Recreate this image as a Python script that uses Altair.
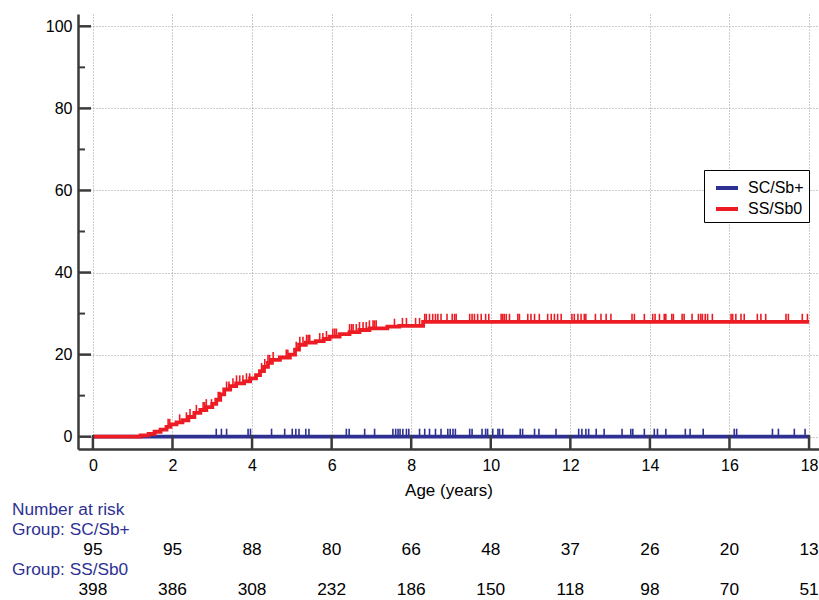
import altair as alt
import pandas as pd
import numpy as np

# ---------------- data ----------------
group_names = ["SC/Sb+", "SS/Sb0"]
group_colors = ["#2E3192", "#ED1C24"]

# SS/Sb0 cumulative incidence step function (%), time in years
ss_times = [0, 1.2, 1.4, 1.55, 1.7, 1.85, 1.95, 2.1, 2.25, 2.4, 2.55, 2.7, 2.85,
            3.0, 3.1, 3.2, 3.3, 3.45, 3.6, 3.8, 3.95, 4.1, 4.2, 4.3, 4.4, 4.5,
            4.7, 4.95, 5.08, 5.18, 5.35, 5.6, 5.8, 5.95, 6.2, 6.45, 6.7, 6.95,
            7.4, 7.7, 8.3, 18.0]
ss_values = [0, 0.3, 0.7, 1.2, 1.7, 2.4, 3.0, 3.5, 4.0, 4.8, 5.8, 6.5, 7.2,
             8.0, 9.0, 10.3, 11.5, 12.3, 13.0, 13.5, 14.2, 15.0, 16.0, 17.0, 18.0, 18.7,
             19.3, 20.0, 21.2, 22.4, 22.9, 23.3, 23.8, 24.4, 25.0, 25.5, 26.0, 26.4,
             26.8, 27.0, 28.0, 28.0]

# SC/Sb+ cumulative incidence step function (%)
sc_times = [0, 18.0]
sc_values = [0, 0]

# censoring times
ss_censor = [1.89, 1.93, 2.18, 2.35, 2.44, 2.60, 2.77, 2.81, 2.85, 2.98, 3.15, 3.19,
             3.36, 3.42, 3.52, 3.61, 3.69, 3.77, 3.86, 3.94, 4.24, 4.32, 4.40, 4.44,
             4.53, 4.86, 4.90, 5.11, 5.20, 5.28, 5.37, 5.41, 5.45, 5.70, 5.78, 5.87,
             6.03, 6.08, 6.12, 6.45, 6.50, 6.54, 6.62, 6.70, 6.79, 6.87, 6.95, 7.04,
             7.08, 7.12, 7.58, 7.78, 7.88, 8.11, 8.21, 8.34, 8.38, 8.46, 8.54, 8.61,
             8.67, 8.75, 8.90, 9.03, 9.09, 9.13, 9.47, 9.53, 9.59, 9.67, 9.76, 9.87,
             9.95, 10.26, 10.30, 10.34, 10.39, 10.47, 10.68, 10.72, 10.93, 11.01, 11.10,
             11.22, 11.43, 11.52, 11.60, 11.68, 11.77, 12.04, 12.10, 12.19, 12.27,
             12.35, 12.39, 12.63, 12.77, 12.90, 13.02, 13.55, 13.61, 13.86, 14.07,
             14.13, 14.24, 14.36, 14.40, 14.55, 14.59, 14.81, 14.86, 15.06, 15.22,
             15.28, 15.32, 15.39, 15.45, 15.57, 16.04, 16.08, 16.16, 16.29, 16.37,
             16.70, 16.79, 16.91, 17.42, 17.48, 17.83, 17.96]
sc_censor = [3.10, 3.23, 3.36, 3.90, 3.96, 4.49, 4.82, 5.01, 5.10, 5.18, 5.35, 5.43,
             6.37, 6.44, 6.83, 7.08, 7.54, 7.61, 7.67, 7.72, 7.79, 7.88, 7.94, 8.21,
             8.34, 8.46, 8.61, 8.75, 8.92, 8.98, 9.05, 9.11, 9.47, 9.53, 9.78, 9.87,
             9.92, 10.05, 10.18, 10.22, 10.30, 10.74, 10.80, 11.10, 11.21, 11.64,
             12.21, 12.29, 12.39, 12.46, 12.65, 12.85, 13.30, 13.52, 13.57, 13.86,
             14.11, 14.19, 14.40, 14.89, 15.01, 15.34, 16.12, 16.18, 17.08, 17.23,
             17.63, 17.90]

# number at risk table
risk_times = [0, 2, 4, 6, 8, 10, 12, 14, 16, 18]
risk_sc = [95, 95, 88, 80, 66, 48, 37, 26, 20, 13]
risk_ss = [398, 386, 308, 232, 186, 150, 118, 98, 70, 51]

x_ticks = [0, 2, 4, 6, 8, 10, 12, 14, 16, 18]
y_ticks = [0, 20, 40, 60, 80, 100]
y_minor = [10, 30, 50, 70, 90]

# ---------------- build tables ----------------
lines = pd.concat([
    pd.DataFrame({"t": sc_times, "v": sc_values, "group": group_names[0]}),
    pd.DataFrame({"t": ss_times, "v": ss_values, "group": group_names[1]}),
], ignore_index=True)


def level_at(times, values, t):
    idx = np.searchsorted(np.array(times), np.array(t), side="right") - 1
    return np.array(values)[idx]


censor = pd.concat([
    pd.DataFrame({"t": sc_censor, "v": level_at(sc_times, sc_values, sc_censor),
                  "group": group_names[0]}),
    pd.DataFrame({"t": ss_censor, "v": level_at(ss_times, ss_values, ss_censor),
                  "group": group_names[1]}),
], ignore_index=True)

risk_sc_df = pd.DataFrame({"t": risk_times, "n": risk_sc})
risk_ss_df = pd.DataFrame({"t": risk_times, "n": risk_ss})

FONT = "Liberation Sans"
AXIS_COL = "#3a3a3a"
LABEL_COL = "#2E3192"

xscale = alt.Scale(domain=[-0.375, 18.25], nice=False, zero=False)
yscale = alt.Scale(domain=[-3, 103], nice=False, zero=False)
cscale = alt.Scale(domain=group_names, range=group_colors)
color = alt.Color("group:N", scale=cscale,
                  legend=alt.Legend(title=None, orient="none", legendX=626, legendY=156,
                                    symbolType="stroke", symbolStrokeWidth=4,
                                    symbolSize=484, labelFontSize=16, labelFont=FONT,
                                    labelColor="black", strokeColor="black",
                                    fillColor="white", padding=5, rowPadding=0,
                                    labelOffset=8, symbolOffset=5))

base_x = alt.X("t:Q", scale=xscale,
               axis=alt.Axis(values=x_ticks, grid=True, gridDash=[1, 2], gridColor="#9a9a9a",
                             gridWidth=1, ticks=False, domainColor=AXIS_COL, domainWidth=2.5,
                             labelFontSize=16, labelFont=FONT, labelColor="black",
                             labelPadding=8, title="Age (years)", titleFontSize=17,
                             titleFont=FONT, titleFontWeight="normal", titleColor="black",
                             titlePadding=9))
base_y = alt.Y("v:Q", scale=yscale,
               axis=alt.Axis(values=y_ticks, grid=True, gridDash=[1, 2], gridColor="#9a9a9a",
                             gridWidth=1, ticks=False, domainColor=AXIS_COL, domainWidth=2.5,
                             labelFontSize=16, labelFont=FONT, labelColor="black",
                             labelPadding=6, title=None))

curves = alt.Chart(lines).mark_line(interpolate="step-after", strokeWidth=3.8).encode(
    x=base_x, y=base_y, color=color, detail="group:N")

marks = alt.Chart(censor).mark_rule(strokeWidth=1.6, y2Offset=-8).encode(
    x=alt.X("t:Q", scale=xscale),
    y=alt.Y("v:Q", scale=yscale),
    y2=alt.Y2("v:Q"),
    color=alt.Color("group:N", scale=cscale))

# inward axis ticks
ymaj = alt.Chart(pd.DataFrame({"v": y_ticks})).mark_rule(color=AXIS_COL, strokeWidth=2.5).encode(
    y=alt.Y("v:Q", scale=yscale), x=alt.value(0), x2=alt.value(13))
ymin = alt.Chart(pd.DataFrame({"v": y_minor})).mark_rule(color=AXIS_COL, strokeWidth=2).encode(
    y=alt.Y("v:Q", scale=yscale), x=alt.value(0), x2=alt.value(7))
xmaj = alt.Chart(pd.DataFrame({"t": x_ticks})).mark_rule(color=AXIS_COL, strokeWidth=2.5).encode(
    x=alt.X("t:Q", scale=xscale), y=alt.value(435), y2=alt.value(421))

# number at risk table
txt = dict(font=FONT, fontSize=17.3, baseline="middle")
title_rows = []
for label, ypos in [("Number at risk", 496), ("Group: SC/Sb+", 516), ("Group: SS/Sb0", 556)]:
    title_rows.append(
        alt.Chart(pd.DataFrame({"label": [label]})).mark_text(
            align="left", color=LABEL_COL, **txt).encode(
            text="label:N", x=alt.value(-66), y=alt.value(ypos)))

row_sc = alt.Chart(risk_sc_df).mark_text(align="center", color="black", **txt).encode(
    x=alt.X("t:Q", scale=xscale), y=alt.value(536), text="n:Q")
row_ss = alt.Chart(risk_ss_df).mark_text(align="center", color="black", **txt).encode(
    x=alt.X("t:Q", scale=xscale), y=alt.value(576), text="n:Q")

chart = alt.layer(curves, marks, ymaj, ymin, xmaj, row_sc, row_ss, *title_rows).properties(
    width=741, height=435,
    autosize=alt.AutoSizeParams(type="none"),
    padding={"left": 78, "top": 14, "right": 0, "bottom": 151},
    background="white",
).configure_view(stroke=None)

chart.save("out.html", embed_options={"renderer": "svg", "actions": False})
